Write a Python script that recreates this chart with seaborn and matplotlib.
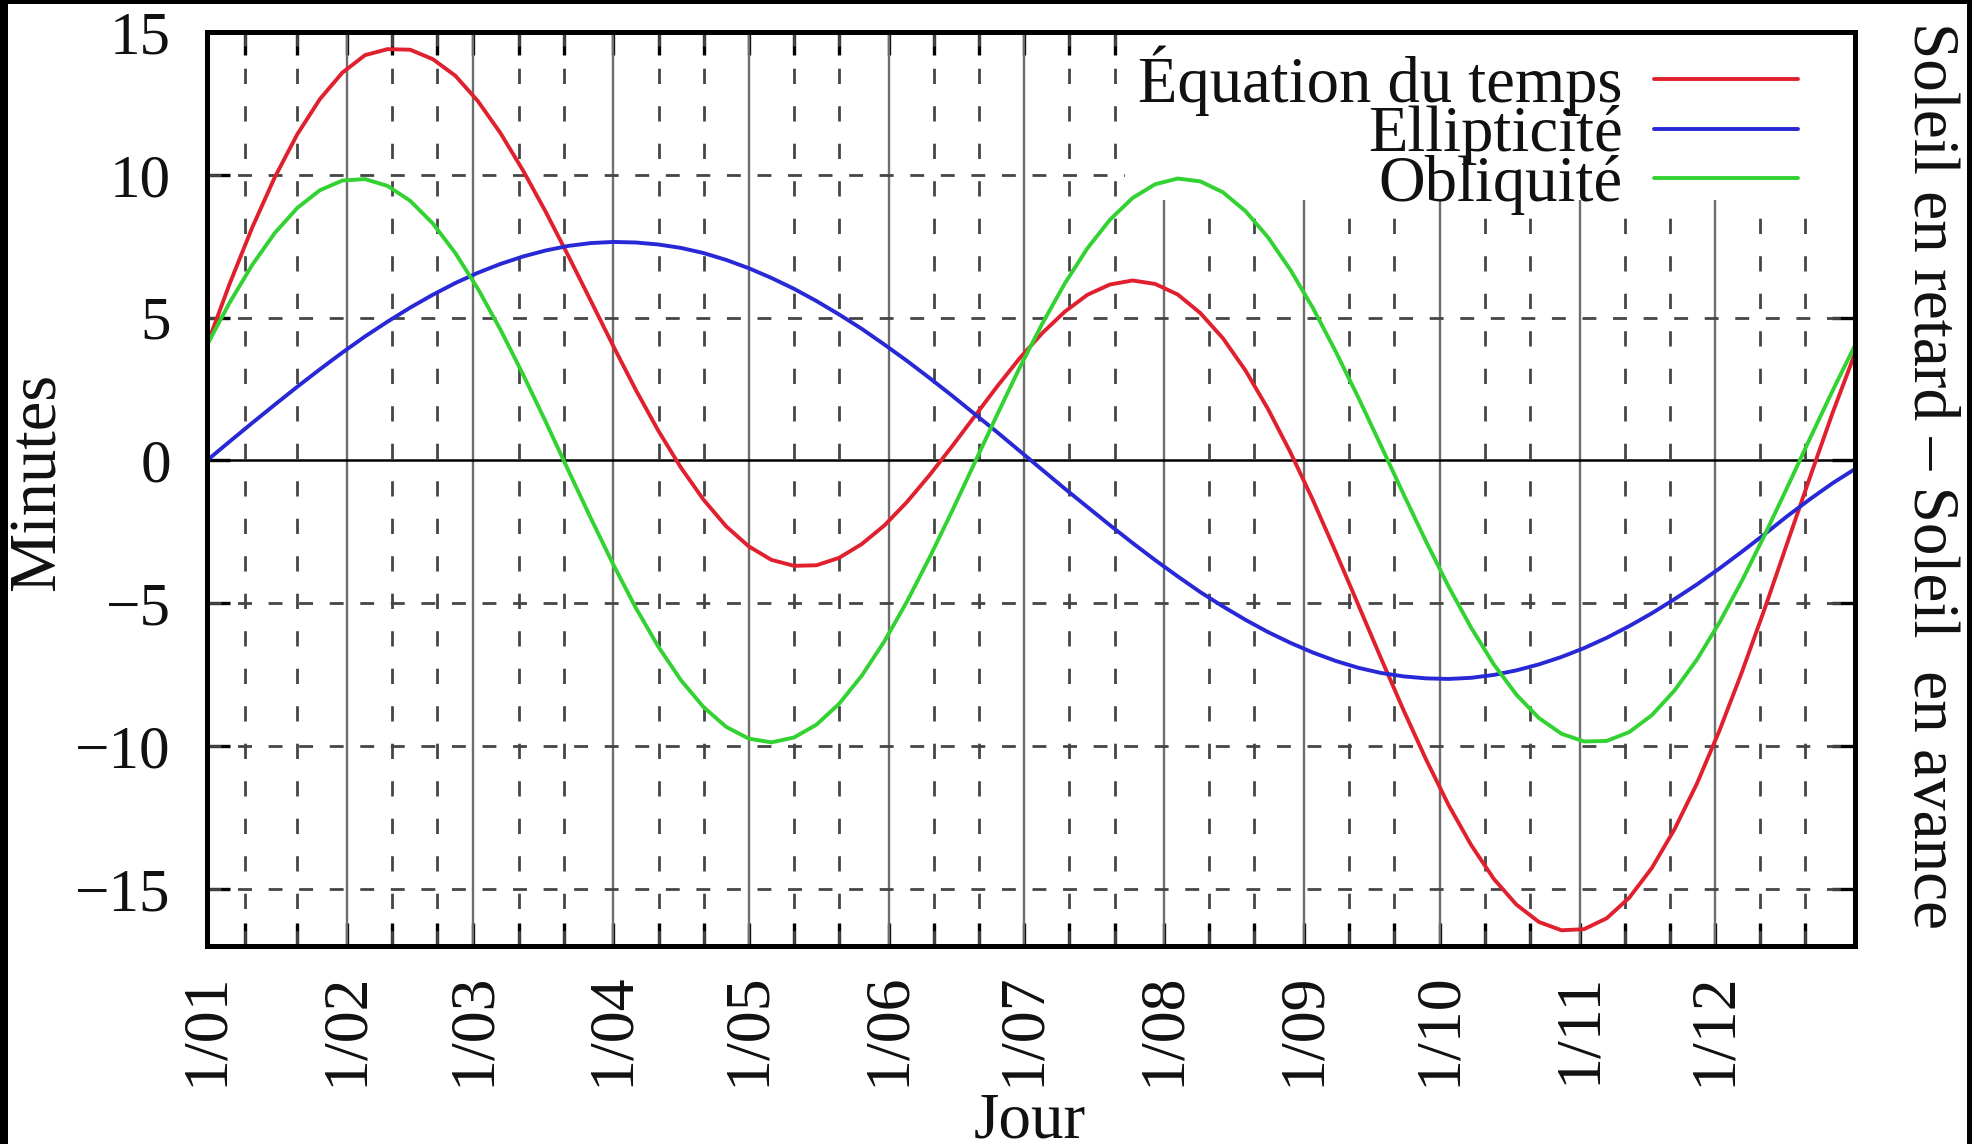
import matplotlib
matplotlib.use("Agg")
import matplotlib.pyplot as plt
import numpy as np
import pandas as pd
import seaborn as sns
from matplotlib.patches import Rectangle

# ---------------- data ----------------
jours = list(range(0, 366, 5))

equation = [4.04, 6.18, 8.15, 9.91, 11.42, 12.65, 13.58, 14.19, 14.40, 14.38, 14.05, 13.47,
            12.58, 11.46, 10.15, 8.71, 7.17, 5.59, 4.00, 2.46, 1.03, -0.26, -1.38, -2.31,
            -3.01, -3.48, -3.69, -3.67, -3.41, -2.93, -2.28, -1.46, -0.52, 0.49, 1.54, 2.59,
            3.58, 4.46, 5.21, 5.80, 6.16, 6.30, 6.18, 5.81, 5.16, 4.28, 3.15, 1.80, 0.27,
            -1.41, -3.21, -5.06, -6.92, -8.74, -10.47, -12.07, -13.47, -14.65, -15.55, -16.16,
            -16.45, -16.41, -16.03, -15.31, -14.27, -12.92, -11.31, -9.45, -7.39, -5.19, -2.89,
            -0.60, 1.65, 3.75]

ellipticite = [0.0, 0.66, 1.31, 1.95, 2.58, 3.19, 3.78, 4.34, 4.86, 5.35, 5.80, 6.21, 6.57,
               6.88, 7.14, 7.35, 7.51, 7.61, 7.65, 7.63, 7.56, 7.44, 7.26, 7.02, 6.73, 6.39,
               6.01, 5.58, 5.11, 4.61, 4.06, 3.49, 2.89, 2.27, 1.63, 0.99, 0.33, -0.33, -0.99,
               -1.63, -2.27, -2.89, -3.49, -4.06, -4.61, -5.11, -5.58, -6.01, -6.39, -6.73,
               -7.02, -7.26, -7.44, -7.56, -7.63, -7.65, -7.61, -7.51, -7.35, -7.14, -6.88,
               -6.57, -6.21, -5.80, -5.35, -4.86, -4.34, -3.78, -3.19, -2.58, -1.95, -1.36,
               -0.80, -0.30]

obliquite = [4.04, 5.52, 6.84, 7.96, 8.84, 9.46, 9.80, 9.85, 9.61, 9.09, 8.30, 7.26, 6.01,
             4.58, 3.01, 1.36, -0.34, -2.02, -3.65, -5.17, -6.53, -7.70, -8.64, -9.33, -9.74,
             -9.87, -9.70, -9.25, -8.52, -7.54, -6.34, -4.95, -3.41, -1.78, -0.09, 1.60, 3.25,
             4.79, 6.20, 7.43, 8.43, 9.19, 9.67, 9.87, 9.77, 9.39, 8.73, 7.81, 6.66, 5.32,
             3.81, 2.20, 0.52, -1.18, -2.84, -4.42, -5.86, -7.14, -8.20, -9.02, -9.57, -9.84,
             -9.82, -9.51, -8.92, -8.06, -6.97, -5.67, -4.20, -2.61, -0.94, 0.76, 2.43, 4.03]

series_names = ["Équation du temps", "Ellipticité", "Obliquité"]
series_colors = ["#e0202e", "#2828d6", "#32d232"]

month_days = [0, 31, 59, 90, 120, 151, 181, 212, 243, 273, 304, 334]
month_labels = ["1/01", "1/02", "1/03", "1/04", "1/05", "1/06",
                "1/07", "1/08", "1/09", "1/10", "1/11", "1/12"]
minor_days = [8.5, 20, 41, 51, 69, 79, 100, 110, 130, 140, 161, 171,
              191, 201, 222, 232, 253, 263, 283, 293, 314, 324, 344, 354]
y_ticks = [-15, -10, -5, 0, 5, 10, 15]
y_grid = [-15, -10, -5, 5, 10]

# ---------------- style ----------------
sns.set_theme(style="white")
plt.rcParams["font.family"] = ["Liberation Serif", "DejaVu Serif"]
plt.rcParams["lines.scale_dashes"] = False
FS_Y = 44
FS_X = 46
FS_LEG = 46.5
FS_LAB = 47
TXT = "#111111"

W, H = 1972, 1144
fig = plt.figure(figsize=(W / 100, H / 100), dpi=100, facecolor="black")
fig.add_artist(Rectangle((8 / W, 0), (1967 - 8) / W, (H - 4) / H,
                         transform=fig.transFigure, facecolor="white",
                         edgecolor="none", zorder=-10))

L, R, T, B = 207, 1855, 32, 946
ax = fig.add_axes([L / W, 1 - B / H, (R - L) / W, (B - T) / H])
ax.set_facecolor("white")

df = pd.DataFrame({
    "Jour": jours * 3,
    "Minutes": equation + ellipticite + obliquite,
    "serie": [series_names[0]] * len(jours) + [series_names[1]] * len(jours)
             + [series_names[2]] * len(jours),
})
sns.lineplot(data=df, x="Jour", y="Minutes", hue="serie", hue_order=series_names,
             palette=dict(zip(series_names, series_colors)), ax=ax, lw=2.8,
             legend=False, zorder=3, estimator=None, sort=True)
curve_lines = list(ax.get_lines())[:3]
for ln in curve_lines:
    ln.set_solid_joinstyle("round")

# grid (drawn behind the key box)
for d in month_days[1:]:
    ax.axvline(d, color="#6e6e6e", lw=1.7, zorder=0.6)
for d in minor_days:
    ax.axvline(d, color="#454545", lw=2.0, ls=(0, (11, 16)), zorder=0.6)
for yv in y_grid:
    ax.axhline(yv, color="#454545", lw=2.0, ls=(0, (10, 12)), zorder=0.6)
ax.axhline(0, color="black", lw=1.8, zorder=0.7)

# opaque key box
ax.add_patch(Rectangle((0.557, 0.816), 0.443, 0.184, transform=ax.transAxes,
                       facecolor="white", edgecolor="none", zorder=1))

ax.set_xlim(0, 365)
ax.set_ylim(-17, 15)
ax.set_xticks(month_days)
ax.set_xticklabels(month_labels, rotation=90, ha="center", va="top")
ax.set_xticks(minor_days, minor=True)
ax.set_yticks(y_ticks)
ax.set_yticklabels([("−" + str(abs(v))) if v < 0 else str(v) for v in y_ticks])
ax.tick_params(which="both", direction="in", length=16.5, width=2.4, color="black",
               top=True, right=True, bottom=True, left=True)
ax.tick_params(axis="x", which="major", labelsize=FS_X, pad=19, labelcolor=TXT)
ax.tick_params(axis="y", which="major", labelsize=FS_Y, pad=26, labelcolor=TXT)
ax.set_xlabel("")
ax.set_ylabel("")
for s in ax.spines.values():
    s.set_visible(True)
    s.set_color("black")
    s.set_linewidth(3.6)
    s.set_zorder(4)

leg = ax.legend(curve_lines, series_names, loc="upper right",
                bbox_to_anchor=(1798 / W, 1 - 45 / H), bbox_transform=fig.transFigure,
                frameon=False, borderpad=0, borderaxespad=0, markerfirst=False,
                handlelength=2.23, handletextpad=0.48, labelspacing=-0.16,
                fontsize=FS_LEG)
leg.set_zorder(5)
for t in leg.get_texts():
    t.set_color(TXT)

fig.text(38 / W, 1 - 482 / H, "Minutes", rotation=90, ha="center", va="center",
         fontsize=FS_LAB + 1, color=TXT)
fig.text(1030 / W, 1 - 1138 / H, "Jour", ha="center", va="baseline",
         fontsize=FS_LAB, color=TXT)
fig.text(1930 / W, 1 - 475 / H, "Soleil en retard – Soleil  en avance", rotation=270,
         ha="center", va="center", fontsize=FS_LAB, color=TXT)

fig.savefig("out.png", dpi=100, facecolor=fig.get_facecolor())
